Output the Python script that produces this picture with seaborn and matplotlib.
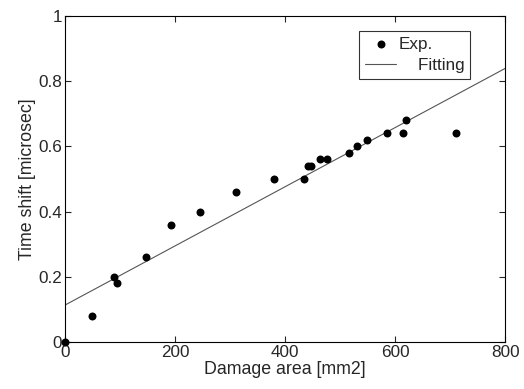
import matplotlib
matplotlib.use("Agg")
import matplotlib.pyplot as plt
import seaborn as sns
import pandas as pd

# Data
damage_area = [0, 50, 90, 95, 147, 192, 245, 311, 380, 434, 442, 447, 463, 476, 516, 531, 549, 585, 614, 619, 710]
time_shift = [0.0, 0.08, 0.20, 0.18, 0.26, 0.36, 0.40, 0.46, 0.50, 0.50, 0.54, 0.54, 0.56, 0.56, 0.58, 0.60, 0.62, 0.64, 0.64, 0.68, 0.64]
fit_x = [0, 800]
fit_y = [0.113, 0.839]
x_ticks = [0, 200, 400, 600, 800]
y_ticks = [0, 0.2, 0.4, 0.6, 0.8, 1]
y_ticklabels = ["0", "0.2", "0.4", "0.6", "0.8", "1"]

sns.set_style("ticks")
plt.rcParams['font.family'] = ['Liberation Sans', 'DejaVu Sans']

fig = plt.figure(figsize=(5.24, 3.89), dpi=100)
ax = fig.add_axes([0.124, 0.121, 0.840, 0.838])

exp_df = pd.DataFrame({"x": damage_area, "y": time_shift})
fit_df = pd.DataFrame({"x": fit_x, "y": fit_y})

sns.scatterplot(data=exp_df, x="x", y="y", ax=ax, color="black", s=33,
                edgecolor="black", linewidth=0, label="Exp.", clip_on=False, zorder=3)
sns.lineplot(data=fit_df, x="x", y="y", ax=ax, color="#555555", linewidth=0.8,
             label="    Fitting", zorder=2)

ax.set_xlim(0, 800)
ax.set_ylim(0, 1)
ax.set_xticks(x_ticks)
ax.set_yticks(y_ticks)
ax.set_yticklabels(y_ticklabels)
ax.tick_params(direction="in", top=True, right=True, labelsize=12.3, length=4, width=0.8, pad=2)
for s in ax.spines.values():
    s.set_linewidth(0.8)
    s.set_color("black")
ax.set_xlabel("Damage area [mm2]", fontsize=12.8, labelpad=1)
ax.set_ylabel("Time shift [microsec]", fontsize=12.8, labelpad=2)

leg = ax.legend(loc="upper right", bbox_to_anchor=(0.9205, 0.955), fontsize=12.3, frameon=True,
                fancybox=False, edgecolor="black", borderpad=0.35, handlelength=1.8,
                labelspacing=0.4, handletextpad=0.15, borderaxespad=0)
leg.get_frame().set_linewidth(0.8)

fig.savefig("out.png", dpi=100)
